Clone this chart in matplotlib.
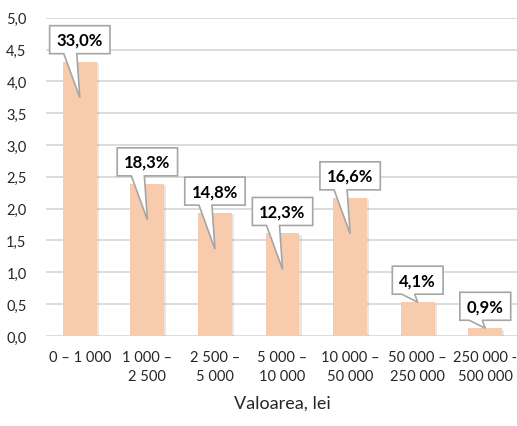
import matplotlib
matplotlib.use("Agg")
import matplotlib.pyplot as plt
import matplotlib.patheffects as pe
from matplotlib.patches import Polygon
import numpy as np

plt.rcParams['font.family'] = ['Lato', 'DejaVu Sans']

categories = ["0 – 1 000", "1 000 –\n2 500", "2 500 –\n5 000", "5 000 –\n10 000",
              "10 000 –\n50 000", "50 000 –\n250 000", "250 000 -\n500 000"]
heights = [4.31, 2.39, 1.93, 1.61, 2.17, 0.53, 0.12]
percent_labels = ["33,0%", "18,3%", "14,8%", "12,3%", "16,6%", "4,1%", "0,9%"]
yticks = [0, 0.5, 1, 1.5, 2, 2.5, 3, 3.5, 4, 4.5, 5]

BAR_COLOR = "#F8CBAD"
GRID_COLOR = "#D9D9D9"
BOX_EDGE = "#A6A6A6"

fig = plt.figure(figsize=(5.17, 4.27), dpi=100)
ax = fig.add_axes([0.089, 0.211, 0.915, 0.745])

x = np.arange(len(categories))
bars = ax.bar(x, heights, width=0.5, color=BAR_COLOR, zorder=2)
for b in bars:
    b.set_path_effects([pe.SimplePatchShadow(offset=(1.5, -1), shadow_rgbFace="#888888", alpha=0.2),
                        pe.Normal()])

ax.set_xlim(-0.5, 6.5)
ax.set_ylim(0, 5)
ax.set_yticks(yticks)
ax.set_yticklabels([f"{v:.1f}".replace(".", ",") for v in yticks])
ax.set_xticks(x)
ax.set_xticklabels(categories, linespacing=1.5)
ax.tick_params(axis='both', length=0, labelsize=10.5, colors="#262626")
ax.tick_params(axis='y', pad=14)
ax.tick_params(axis='x', pad=10)
ax.yaxis.grid(True, color=GRID_COLOR, linewidth=1.3, zorder=0)
ax.set_axisbelow(True)
for s in ax.spines.values():
    s.set_visible(False)

fig.text(0.546, 1 - 404 / 427, "Valoarea, lei", ha="center", va="center",
         fontsize=13, color="#262626")

# callout labels: place text first, then build the box with pointer in pixels
fig.canvas.draw()
to_px = ax.transData
to_data = ax.transData.inverted()
for xi, h, lab in zip(x, heights, percent_labels):
    bx, by = to_px.transform((xi, h))
    box_bottom = by + 8
    box_h = 28
    t = ax.text(xi, 0, lab, ha="center", va="center", fontsize=12,
                fontweight="bold", color="black", zorder=5)
    cy = box_bottom + box_h / 2
    t.set_position(to_data.transform((bx, cy)))
    fig.canvas.draw()
    ext = t.get_window_extent()
    half_w = ext.width / 2 + 7
    tip_y = by - 36 if h > 1 else by
    pts_px = [
        (bx - half_w, box_bottom),
        (bx - 16, box_bottom),
        (bx, tip_y),
        (bx - 3, box_bottom),
        (bx + half_w, box_bottom),
        (bx + half_w, box_bottom + box_h),
        (bx - half_w, box_bottom + box_h),
    ]
    pts = to_data.transform(pts_px)
    poly = Polygon(pts, closed=True, facecolor="white", edgecolor=BOX_EDGE,
                   linewidth=1.2, zorder=4, clip_on=False)
    ax.add_patch(poly)

fig.savefig("out.png", dpi=100)
